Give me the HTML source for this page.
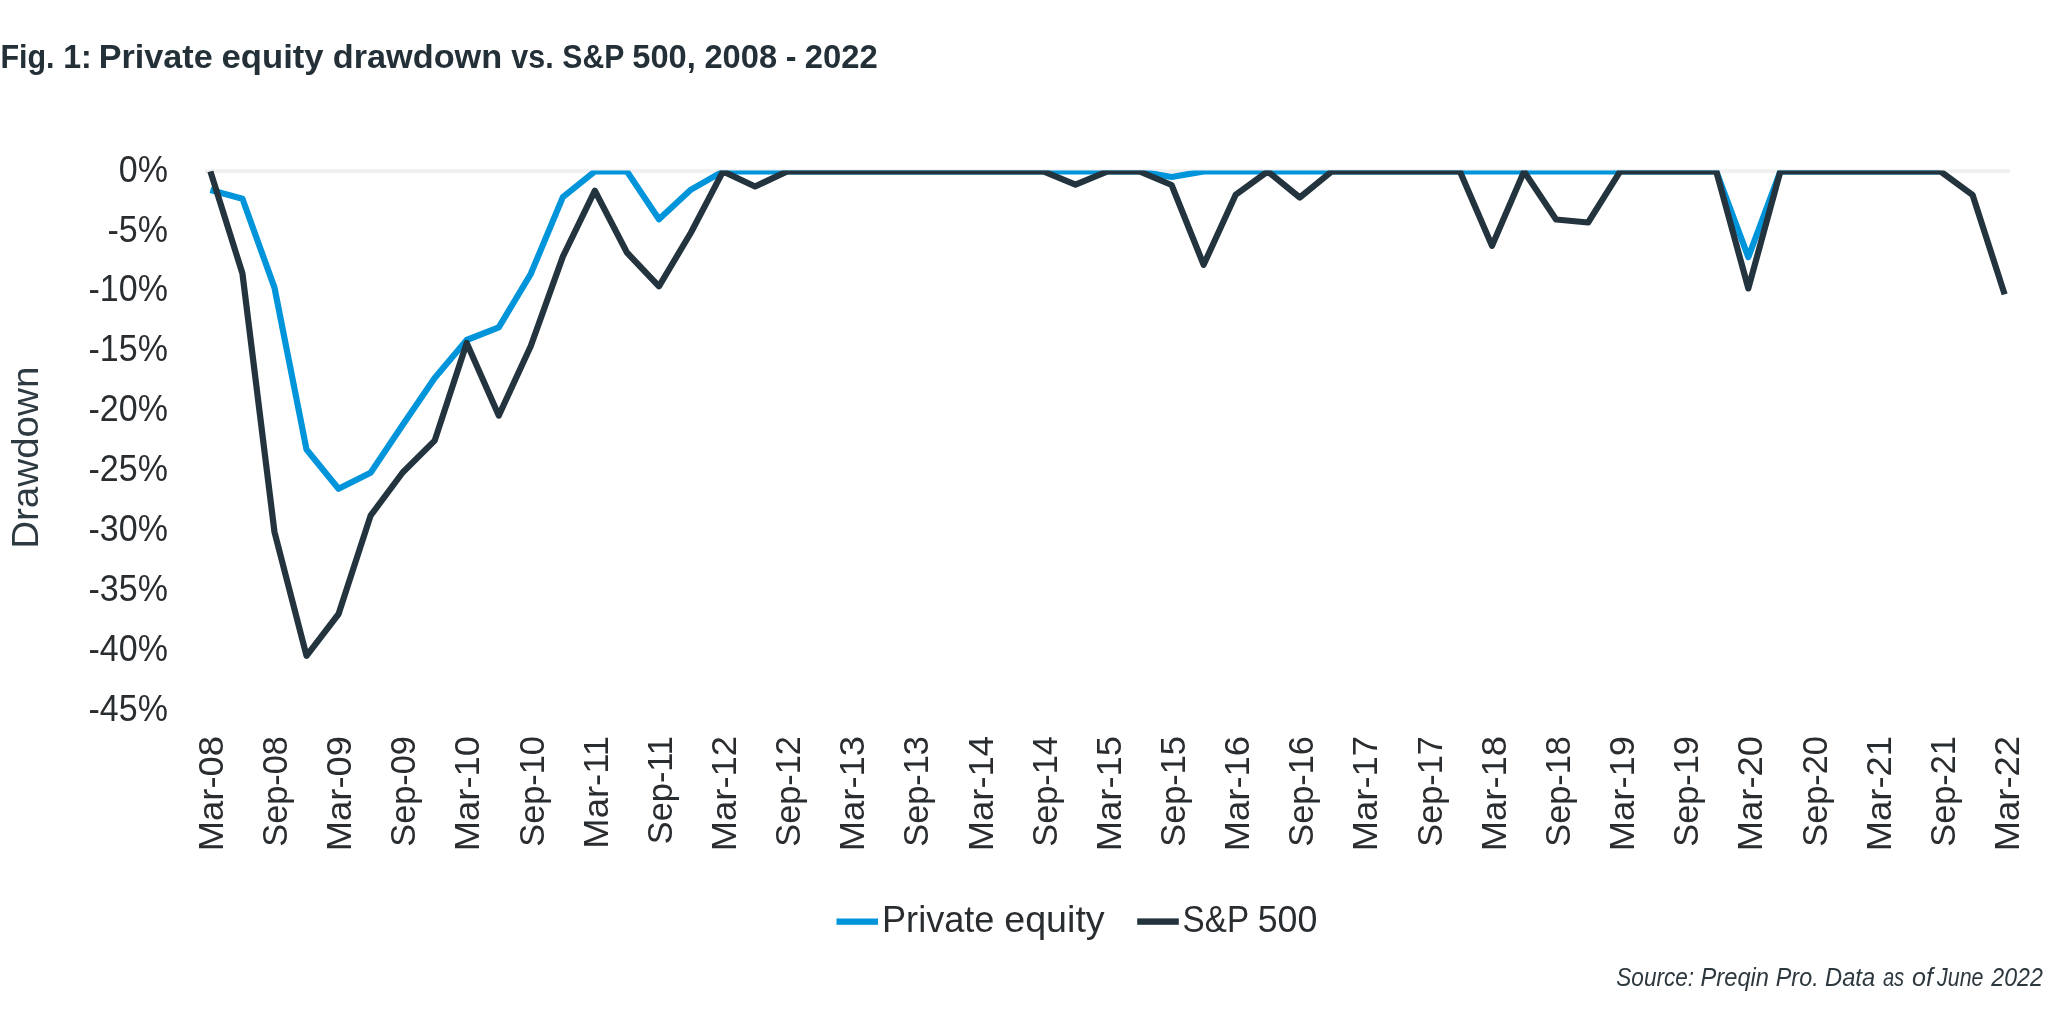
<!DOCTYPE html>
<html><head><meta charset="utf-8"><title>Fig. 1: Private equity drawdown vs. S&amp;P 500, 2008 - 2022</title>
<style>
html,body{margin:0;padding:0;background:#fff;}
body{width:2048px;height:1024px;overflow:hidden;}
svg{display:block;will-change:transform;}
text{font-family:"Liberation Sans", sans-serif;}
</style></head>
<body>
<svg width="2048" height="1024" viewBox="0 0 2048 1024">
<rect width="2048" height="1024" fill="#fff"/>
<text transform="matrix(0.9235 0.0000 0.0000 1.0150 0.42 67.90)" font-size="33" font-weight="bold" fill="#243038">Fig.</text>
<text transform="matrix(0.9732 0.0000 0.0000 1.0150 63.15 67.90)" font-size="33" font-weight="bold" fill="#243038">1:</text>
<text transform="matrix(1.0361 0.0000 0.0000 1.0150 98.77 67.90)" font-size="33" font-weight="bold" fill="#243038">Private</text>
<text transform="matrix(1.0496 0.0000 0.0000 1.0150 221.59 67.90)" font-size="33" font-weight="bold" fill="#243038">equity</text>
<text transform="matrix(1.0385 0.0000 0.0000 1.0150 332.80 67.90)" font-size="33" font-weight="bold" fill="#243038">drawdown</text>
<text transform="matrix(0.9225 0.0000 0.0000 1.0150 511.27 67.90)" font-size="33" font-weight="bold" fill="#243038">vs.</text>
<text transform="matrix(0.9141 0.0000 0.0000 1.0150 562.29 67.90)" font-size="33" font-weight="bold" fill="#243038">S&amp;P</text>
<text transform="matrix(0.9885 0.0000 0.0000 1.0150 632.31 67.90)" font-size="33" font-weight="bold" fill="#243038">500,</text>
<text transform="matrix(0.9895 0.0000 0.0000 1.0150 704.46 67.90)" font-size="33" font-weight="bold" fill="#243038">2008</text>
<text transform="matrix(0.9765 0.0000 0.0000 1.0150 785.68 67.90)" font-size="33" font-weight="bold" fill="#243038">-</text>
<text transform="matrix(0.9951 0.0000 0.0000 1.0150 804.76 67.90)" font-size="33" font-weight="bold" fill="#243038">2022</text>
<rect x="205" y="169.2" width="1805" height="3.9" fill="#f0f0f0"/>
<g font-size="36" fill="#2a2d30">
<text transform="matrix(0.9440 0.0000 0.0000 1.0060 167.88 181.55)" text-anchor="end">0%</text>
<text transform="matrix(0.9440 0.0000 0.0000 1.0060 167.88 241.51)" text-anchor="end">-5%</text>
<text transform="matrix(0.9440 0.0000 0.0000 1.0060 167.88 301.47)" text-anchor="end">-10%</text>
<text transform="matrix(0.9440 0.0000 0.0000 1.0060 167.88 361.43)" text-anchor="end">-15%</text>
<text transform="matrix(0.9440 0.0000 0.0000 1.0060 167.88 421.39)" text-anchor="end">-20%</text>
<text transform="matrix(0.9440 0.0000 0.0000 1.0060 167.88 481.35)" text-anchor="end">-25%</text>
<text transform="matrix(0.9440 0.0000 0.0000 1.0060 167.88 541.31)" text-anchor="end">-30%</text>
<text transform="matrix(0.9440 0.0000 0.0000 1.0060 167.88 601.27)" text-anchor="end">-35%</text>
<text transform="matrix(0.9440 0.0000 0.0000 1.0060 167.88 661.23)" text-anchor="end">-40%</text>
<text transform="matrix(0.9440 0.0000 0.0000 1.0060 167.88 721.19)" text-anchor="end">-45%</text>
</g>
<text transform="matrix(0.0000 -1.0716 1.0328 0.0000 37.59 548.86)" font-size="36" fill="#2d3a42">Drawdown</text>
<g font-size="36" fill="#2a2d30">
<text transform="matrix(0.0000 -1.0119 0.9940 0.0000 222.75 735.98)" text-anchor="end">Mar-08</text>
<text transform="matrix(0.0000 -0.9530 0.9940 0.0000 286.90 736.07)" text-anchor="end">Sep-08</text>
<text transform="matrix(0.0000 -1.0119 0.9940 0.0000 351.05 735.98)" text-anchor="end">Mar-09</text>
<text transform="matrix(0.0000 -0.9530 0.9940 0.0000 415.20 736.07)" text-anchor="end">Sep-09</text>
<text transform="matrix(0.0000 -1.0119 0.9940 0.0000 479.35 735.98)" text-anchor="end">Mar-10</text>
<text transform="matrix(0.0000 -0.9530 0.9940 0.0000 543.50 736.07)" text-anchor="end">Sep-10</text>
<text transform="matrix(0.0000 -1.0119 0.9940 0.0000 607.65 735.98)" text-anchor="end">Mar-11</text>
<text transform="matrix(0.0000 -0.9530 0.9940 0.0000 671.80 736.07)" text-anchor="end">Sep-11</text>
<text transform="matrix(0.0000 -1.0119 0.9940 0.0000 735.95 735.98)" text-anchor="end">Mar-12</text>
<text transform="matrix(0.0000 -0.9530 0.9940 0.0000 800.10 736.07)" text-anchor="end">Sep-12</text>
<text transform="matrix(0.0000 -1.0119 0.9940 0.0000 864.25 735.98)" text-anchor="end">Mar-13</text>
<text transform="matrix(0.0000 -0.9530 0.9940 0.0000 928.40 736.07)" text-anchor="end">Sep-13</text>
<text transform="matrix(0.0000 -1.0119 0.9940 0.0000 992.55 735.98)" text-anchor="end">Mar-14</text>
<text transform="matrix(0.0000 -0.9530 0.9940 0.0000 1056.70 736.07)" text-anchor="end">Sep-14</text>
<text transform="matrix(0.0000 -1.0119 0.9940 0.0000 1120.85 735.98)" text-anchor="end">Mar-15</text>
<text transform="matrix(0.0000 -0.9530 0.9940 0.0000 1185.00 736.07)" text-anchor="end">Sep-15</text>
<text transform="matrix(0.0000 -1.0119 0.9940 0.0000 1249.15 735.98)" text-anchor="end">Mar-16</text>
<text transform="matrix(0.0000 -0.9530 0.9940 0.0000 1313.30 736.07)" text-anchor="end">Sep-16</text>
<text transform="matrix(0.0000 -1.0119 0.9940 0.0000 1377.45 735.98)" text-anchor="end">Mar-17</text>
<text transform="matrix(0.0000 -0.9530 0.9940 0.0000 1441.60 736.07)" text-anchor="end">Sep-17</text>
<text transform="matrix(0.0000 -1.0119 0.9940 0.0000 1505.75 735.98)" text-anchor="end">Mar-18</text>
<text transform="matrix(0.0000 -0.9530 0.9940 0.0000 1569.90 736.07)" text-anchor="end">Sep-18</text>
<text transform="matrix(0.0000 -1.0119 0.9940 0.0000 1634.05 735.98)" text-anchor="end">Mar-19</text>
<text transform="matrix(0.0000 -0.9530 0.9940 0.0000 1698.20 736.07)" text-anchor="end">Sep-19</text>
<text transform="matrix(0.0000 -1.0119 0.9940 0.0000 1762.35 735.98)" text-anchor="end">Mar-20</text>
<text transform="matrix(0.0000 -0.9530 0.9940 0.0000 1826.50 736.07)" text-anchor="end">Sep-20</text>
<text transform="matrix(0.0000 -1.0119 0.9940 0.0000 1890.65 735.98)" text-anchor="end">Mar-21</text>
<text transform="matrix(0.0000 -0.9530 0.9940 0.0000 1954.80 736.07)" text-anchor="end">Sep-21</text>
<text transform="matrix(0.0000 -1.0119 0.9940 0.0000 2018.95 735.98)" text-anchor="end">Mar-22</text>
</g>
<defs><clipPath id="pc"><rect x="150" y="170.4" width="1898" height="700"/></clipPath></defs>
<g clip-path="url(#pc)" fill="none" stroke-width="6.2" stroke-linejoin="round">
<polyline points="210.40,190.00 242.44,198.80 274.48,287.60 306.52,449.50 338.56,488.70 370.60,472.70 402.64,425.00 434.68,378.00 466.72,340.00 498.76,327.40 530.80,273.80 562.84,197.10 594.88,171.40 626.92,171.40 658.96,219.30 691.00,189.60 723.04,171.40 755.08,171.40 787.12,171.40 819.16,171.40 851.20,171.40 883.24,171.40 915.28,171.40 947.32,171.40 979.36,171.40 1011.40,171.40 1043.44,171.40 1075.48,171.40 1107.52,171.40 1139.56,171.40 1171.60,177.00 1203.64,171.40 1235.68,171.40 1267.72,171.40 1299.76,171.40 1331.80,171.40 1363.84,171.40 1395.88,171.40 1427.92,171.40 1459.96,171.40 1492.00,171.40 1524.04,171.40 1556.08,171.40 1588.12,171.40 1620.16,171.40 1652.20,171.40 1684.24,171.40 1716.28,171.40 1748.32,257.20 1780.36,171.40 1812.40,171.40 1844.44,171.40 1876.48,171.40 1908.52,171.40 1940.56,171.40" stroke="#0094da"/>
<polyline points="210.40,171.40 242.44,273.50 274.48,532.00 306.52,655.80 338.56,614.00 370.60,515.60 402.64,472.50 434.68,440.60 466.72,343.00 498.76,415.60 530.80,346.00 562.84,256.60 594.88,190.70 626.92,252.50 658.96,286.30 691.00,232.50 723.04,171.40 755.08,186.50 787.12,171.40 819.16,171.40 851.20,171.40 883.24,171.40 915.28,171.40 947.32,171.40 979.36,171.40 1011.40,171.40 1043.44,171.40 1075.48,184.70 1107.52,171.40 1139.56,171.40 1171.60,185.00 1203.64,264.80 1235.68,194.80 1267.72,171.40 1299.76,197.50 1331.80,171.40 1363.84,171.40 1395.88,171.40 1427.92,171.40 1459.96,171.40 1492.00,245.80 1524.04,171.40 1556.08,219.50 1588.12,222.50 1620.16,171.40 1652.20,171.40 1684.24,171.40 1716.28,171.40 1748.32,288.40 1780.36,171.40 1812.40,171.40 1844.44,171.40 1876.48,171.40 1908.52,171.40 1940.56,171.40 1972.60,195.00 2004.64,294.40" stroke="#24343e"/>
</g>
<rect x="836.5" y="918.5" width="41.5" height="6.3" fill="#0094da"/>
<text transform="matrix(1.0033 0.0000 0.0000 1.0100 882.04 931.90)" font-size="36" fill="#2a2d30">Private</text>
<text transform="matrix(1.0455 0.0000 0.0000 1.0100 1004.23 931.90)" font-size="36" fill="#2a2d30">equity</text>
<rect x="1137.2" y="918.4" width="41.6" height="6.4" fill="#24343e"/>
<text transform="matrix(0.9231 0.0000 0.0000 1.0100 1182.58 931.90)" font-size="36" fill="#2a2d30">S&amp;P</text>
<text transform="matrix(0.9921 0.0000 0.0000 1.0100 1257.71 931.90)" font-size="36" fill="#2a2d30">500</text>
<text transform="matrix(0.9420 0.0000 0.0000 1.0450 1616.29 986.10)" font-size="24" font-style="italic" fill="#2d383f">Source:</text>
<text transform="matrix(0.9867 0.0000 0.0000 1.0450 1700.56 986.10)" font-size="24" font-style="italic" fill="#2d383f">Preqin</text>
<text transform="matrix(0.9739 0.0000 0.0000 1.0450 1775.77 986.10)" font-size="24" font-style="italic" fill="#2d383f">Pro.</text>
<text transform="matrix(0.9878 0.0000 0.0000 1.0450 1825.06 986.10)" font-size="24" font-style="italic" fill="#2d383f">Data</text>
<text transform="matrix(0.8412 0.0000 0.0000 1.0450 1882.88 986.10)" font-size="24" font-style="italic" fill="#2d383f">as</text>
<text transform="matrix(1.0447 0.0000 0.0000 1.0450 1912.02 986.10)" font-size="24" font-style="italic" fill="#2d383f">of</text>
<text transform="matrix(0.8937 0.0000 0.0000 1.0450 1937.00 986.10)" font-size="24" font-style="italic" fill="#2d383f">June</text>
<text transform="matrix(0.9660 0.0000 0.0000 1.0450 1991.30 986.10)" font-size="24" font-style="italic" fill="#2d383f">2022</text>
</svg>
</body></html>
